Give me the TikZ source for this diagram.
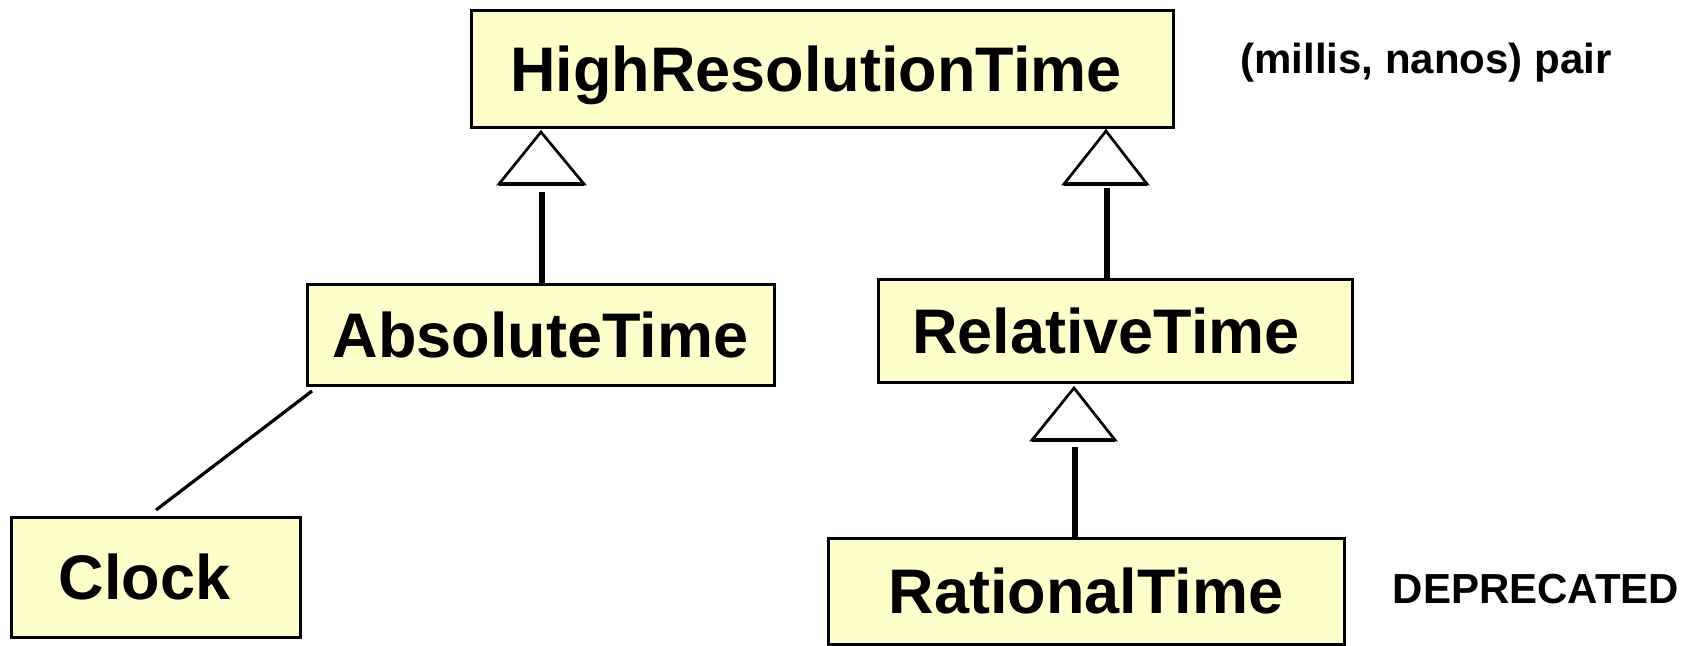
\documentclass[tikz,border=0pt]{standalone}
\usepackage{fontspec}
\setmainfont{Liberation Sans}
\usetikzlibrary{calc}

\definecolor{classfill}{HTML}{FFFFCC}

\tikzset{
  classbox/.style={draw=black, fill=classfill, line width=3pt, rectangle,
    inner sep=0pt, outer sep=0pt, text height=45pt, text depth=0pt,
    font=\fontsize{63}{70}\selectfont\bfseries},
  note/.style={inner sep=0pt, anchor=base, font=\fontsize{42}{48}\selectfont\bfseries},
  genline/.style={line width=5.4pt},
  gentri/.style={line width=2.7pt, line join=miter},
  genbase/.style={line width=3.8pt},
  assoc/.style={line width=3.2pt}
}

\begin{document}
\begin{tikzpicture}[x=1pt, y=-1pt]
  \useasboundingbox (0,0) rectangle (1694,645);

  % classes
  \node[classbox, minimum width=702pt, minimum height=117pt] (hrt)   at (822,68.5)  {HighResolutionTime\hspace*{12pt}};
  \node[classbox, minimum width=467pt, minimum height=101pt] (abs)   at (540.5,334.5) {AbsoluteTime};
  \node[classbox, minimum width=474pt, minimum height=103pt] (rel)   at (1115,330.5) {RelativeTime\hspace*{18pt}};
  \node[classbox, minimum width=516pt, minimum height=106pt] (rat)   at (1086,591)   {RationalTime};
  \node[classbox, minimum width=289pt, minimum height=120pt] (clock) at (155.5,577)  {Clock\hspace*{22pt}};

  % notes
  \node[note] (pairnote) at (1426,73)  {(millis, nanos) pair};
  \node[note] (depnote)  at (1536,603) {DEPRECATED};

  % generalization: AbsoluteTime -> HighResolutionTime
  \coordinate (apexA) at (541,132);
  \coordinate (stemA) at (542,192);
  \draw[gentri] (apexA) -- ++(-42,52) -- ++(85,0) -- cycle;
  \draw[genbase] ($(apexA)+(-42,52)$) -- ++(85,0);
  \draw[genline] (stemA |- abs.north) -- (stemA);

  % generalization: RelativeTime -> HighResolutionTime
  \coordinate (apexB) at (1106,131);
  \coordinate (stemB) at (1107,188);
  \draw[gentri] (apexB) -- ++(-42,53) -- ++(83,0) -- cycle;
  \draw[genbase] ($(apexB)+(-42,53)$) -- ++(83,0);
  \draw[genline] (stemB |- rel.north) -- (stemB);

  % generalization: RationalTime -> RelativeTime
  \coordinate (apexC) at (1074,388);
  \coordinate (stemC) at (1075,447);
  \draw[gentri] (apexC) -- ++(-42,52) -- ++(83,0) -- cycle;
  \draw[genbase] ($(apexC)+(-42,52)$) -- ++(83,0);
  \draw[genline] (stemC |- rat.north) -- (stemC);

  % association: Clock -- AbsoluteTime
  \draw[assoc] ($(abs.south west)+(5,6)$) -- ($(clock.north)+(0.5,-7)$);
\end{tikzpicture}
\end{document}
